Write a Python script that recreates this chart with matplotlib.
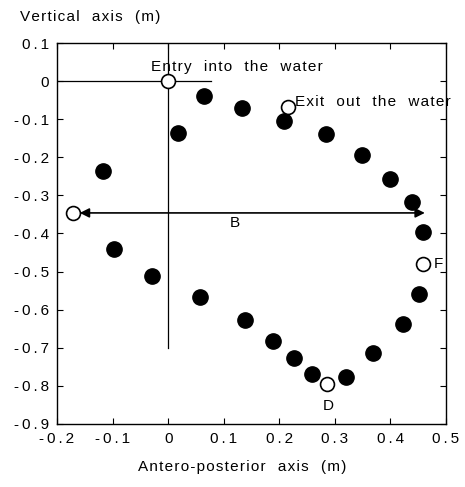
import numpy as np
from matplotlib import pyplot as plt
from matplotlib.ticker import FuncFormatter, MultipleLocator

plt.rcParams['font.family'] = ['Liberation Sans', 'DejaVu Sans']
plt.rcParams['axes.unicode_minus'] = False

# filled points of the trajectory
x_filled = [0.065, 0.018, 0.133, 0.209, 0.284, 0.349, 0.399, 0.439, 0.459,
            -0.117, -0.097, -0.029, 0.057, 0.138, 0.189, 0.226, 0.259,
            0.321, 0.369, 0.422, 0.451]
y_filled = [-0.039, -0.136, -0.071, -0.104, -0.139, -0.194, -0.257, -0.318, -0.396,
            -0.236, -0.441, -0.512, -0.567, -0.627, -0.682, -0.727, -0.769,
            -0.777, -0.714, -0.638, -0.559]

# open points: entry, exit, left end, D, F
x_open = [0.0, 0.216, -0.171, 0.286, 0.459]
y_open = [0.0, -0.068, -0.346, -0.795, -0.480]

# arrow B
b_start = -0.159
b_end = 0.462
b_y = -0.346

HAIR = '\u200a'
THIN = '\u2009'


def spaced(s, sep=HAIR):
    # the scanned figure has loose letter spacing
    return sep.join(s)


fig = plt.figure(figsize=(4.65, 4.87), dpi=100)
ax = fig.add_axes([0.1226, 0.1294, 0.8364, 0.7823])

# reference lines through the entry point
ax.plot([-0.2, 0.077], [0, 0], color='black', lw=0.9)
ax.plot([0, 0], [0.1, -0.70], color='black', lw=0.9)

ax.plot(x_filled, y_filled, 'o', color='black', markersize=11, zorder=3)
ax.plot(x_open, y_open, 'o', markerfacecolor='white', markeredgecolor='black',
        markeredgewidth=1.2, markersize=10, zorder=4)

ax.annotate('', xy=(b_end, b_y), xytext=(b_start, b_y),
            arrowprops=dict(arrowstyle='<|-|>', color='black', lw=1.2,
                            mutation_scale=14, shrinkA=0, shrinkB=0))

fs = 11
ax.text(0.12, -0.372, 'B', ha='center', va='center', fontsize=fs)
ax.text(-0.031, 0.037, spaced('Entry  into  the  water'), ha='left', va='center', fontsize=fs)
ax.text(0.228, -0.056, spaced('Exit  out  the  water'), ha='left', va='center', fontsize=fs)
ax.text(0.478, -0.48, 'F', ha='left', va='center', fontsize=fs)
ax.text(0.288, -0.853, 'D', ha='center', va='center', fontsize=fs)

ax.set_xlim(-0.2, 0.5)
ax.set_ylim(-0.9, 0.1)
ax.xaxis.set_major_locator(MultipleLocator(0.1))
ax.yaxis.set_major_locator(MultipleLocator(0.1))
fmt = FuncFormatter(lambda v, p: spaced('%g' % round(v, 2), THIN) if abs(v) > 1e-9 else '0')
ax.xaxis.set_major_formatter(fmt)
ax.yaxis.set_major_formatter(fmt)
ax.tick_params(direction='in', top=True, right=True, length=4, labelsize=fs, pad=6)

for s in ax.spines.values():
    s.set_linewidth(1.0)

fig.text(0.043, 0.965, spaced('Vertical  axis  (m)'), ha='left', va='center', fontsize=fs)
fig.text(0.52, 0.041, spaced('Antero-posterior  axis  (m)'), ha='center', va='center', fontsize=fs)

fig.savefig('out.png', dpi=100)
